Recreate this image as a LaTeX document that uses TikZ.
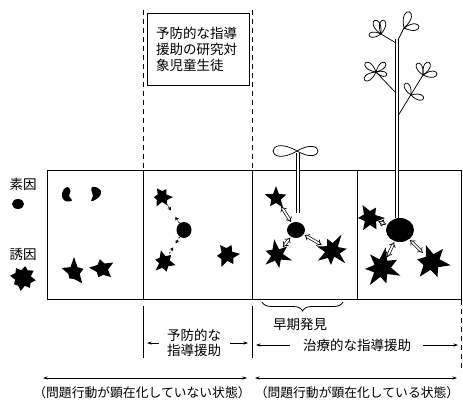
\documentclass[tikz,border=0pt]{standalone}
\usepackage{fontspec}
\setmainfont{Noto Sans CJK JP}
\usetikzlibrary{arrows.meta,shapes.geometric,decorations.pathreplacing}

% a leaf as a closed loop starting from its base point
\newcommand\leafat[3]{%
  \pgfmathsetmacro\leafdist{#3*1.54}%
  \draw[leafline] (#1) to[out={#2+30},in={#2-30},distance=\leafdist pt] (#1);}

% a jagged black factor: centre, rotation, number of corners, first radius, other radii
\newcommand\blot[5]{%
  \pgfmathsetmacro\blotstep{360/#3}%
  \fill[shift={(#1)},rotate=#2] (0:#4) \foreach \r [count=\i] in {#5} {-- ({\i*\blotstep}:\r)} -- cycle;}

\begin{document}
\begin{tikzpicture}[x=1pt,y=1pt,yscale=-1,
  font=\fontsize{13.5}{16}\selectfont,
  frame/.style={line width=0.9pt},
  guide/.style={line width=0.7pt,dash pattern=on 5pt off 4pt},
  rule/.style={line width=0.7pt},
  ball/.style={ellipse,fill=black,draw=none,inner sep=0pt},
  push/.style={line width=0.7pt,dash pattern=on 2pt off 1.5pt,-{Stealth[length=3.5pt,width=4pt]}},
  mutual/.style={line width=0.7pt,double,double distance=1.7pt,{Implies}-{Implies}},
  stemline/.style={line width=0.65pt,double,double distance=2.4pt},
  leafline/.style={line width=0.75pt},
  span/.style={line width=0.6pt,-{Stealth[length=4.5pt,width=3pt]}},
  bothspan/.style={line width=0.6pt,{Stealth[length=4.5pt,width=3pt]}-{Stealth[length=4.5pt,width=3pt]}},
  label/.style={inner sep=0pt}]
\useasboundingbox (0,0) rectangle (463,401);

% ---- dashed guides above the stage box
\draw[guide] (143.5,10) -- (143.5,170);
\draw[guide] (252.5,10) -- (252.5,170);

% ---- research target box
\node[draw,frame,fill=white,minimum width=102pt,minimum height=72pt,text width=84pt,align=left,
      font=\fontsize{13.5}{16}\selectfont] (target) at (198,49)
  {予防的な指導\\援助の研究対\\象児童生徒};

% ---- stage box with four panels
\draw[frame] (47,170) rectangle (461,299);
\draw[frame] (143.5,170) -- (143.5,299);
\draw[frame] (252.5,170) -- (252.5,299);
\draw[frame] (357,170) -- (357,299);

% ---- legend
\node[label] (lsoin) at (23,184) {素因};
\node[ball,minimum width=12pt,minimum height=10pt] (ldot) at (18,204) {};
\node[label] (lyuin) at (23,254) {誘因};
\coordinate (lstar) at (23,278);
\blot{lstar}{10}{16}{13}{9,12,8,13,9,11,8,13,9,12,8,12,9,13,8,13}

% ---- panel 1: separate factors
\fill plot[smooth cycle] coordinates {(68,187) (64,189) (62,194) (63,199) (67,201.5) (72,200.5) (69,196) (70.5,191)};
\fill plot[smooth cycle] coordinates {(92,187) (97,187.5) (101,191) (100,196) (95,200) (91,201) (93,196) (91.5,191)};
\coordinate (p1a) at (74,272);
\coordinate (p1b) at (102,269);
\blot{p1a}{-90}{10}{15}{6,10,6,14,7,8,6,13,6,15}
\blot{p1b}{-30}{10}{13}{6,12,6,9,6,13,6,10,6,13}

% ---- panel 2: factors beginning to meet
\coordinate (p2a) at (162,197);
\coordinate (p2b) at (164,262);
\coordinate (p2c) at (227,255);
\blot{p2a}{0}{12}{11}{6,9,5,11,6,8,5,10,6,9,5,11}
\blot{p2b}{15}{12}{12}{6,10,6,12,5,9,6,12,6,10,6,12}
\blot{p2c}{-5}{12}{13}{7,11,6,13,7,10,6,12,7,11,6,13}
\node[ball,minimum width=15pt,minimum height=16pt] (p2o) at (184,230) {};
\draw[push,shorten <=8pt,shorten >=15.5pt] (p2a) -- (p2o);
\draw[push,shorten >=24pt] (p2o) -- (p2a);
\draw[push,shorten <=10pt,shorten >=12.5pt] (p2b) -- (p2o);
\draw[push,shorten >=22pt] (p2o) -- (p2b);

% ---- panel 3: seedling, early stage
\draw[stemline] (298,153) -- (298,213);
\coordinate (sprout) at (297,151);
\leafat{sprout}{180}{24}
\leafat{sprout}{0}{21}
\coordinate (p3a) at (276,198);
\coordinate (p3b) at (277,255);
\coordinate (p3c) at (332,251);
\blot{p3a}{-90}{10}{12}{5,11,5,12,5,10,5,12,5,12}
\blot{p3b}{20}{12}{16}{6,13,6,15,6,12,7,16,6,13,6,16}
\blot{p3c}{-60}{14}{19}{7,15,8,18,6,14,8,17,7,16,7,13,8,19}
\node[ball,minimum width=18pt,minimum height=16pt] (p3o) at (296,230) {};
\draw[mutual,shorten <=10pt,shorten >=1pt] (p3a) -- (p3o);
\draw[mutual,shorten <=10pt,shorten >=1pt] (p3b) -- (p3o);
\draw[mutual,shorten <=1pt,shorten >=12pt] (p3o) -- (p3c);

% ---- panel 4: grown plant
\draw[stemline] (397,39) -- (397,218);
\coordinate (tl) at (381,34);
\coordinate (tr) at (404,28);
\coordinate (ml) at (376,72);
\coordinate (mr) at (423,75);
\coordinate (mm) at (411,95);
\draw[leafline] (396,43) -- (tl);
\draw[leafline] (398,40) -- (tr);
\draw[leafline] (396,93) -- (ml);
\draw[leafline] (398.5,115) -- (mr);
\leafat{tl}{-115}{15}
\leafat{tl}{-80}{14}
\leafat{tl}{175}{12}
\leafat{tr}{-72}{17}
\leafat{tr}{-5}{15}
\leafat{ml}{-140}{14}
\leafat{ml}{-45}{13}
\leafat{ml}{145}{14}
\leafat{ml}{15}{11}
\leafat{mr}{-115}{13}
\leafat{mr}{-65}{14}
\leafat{mr}{-5}{14}
\leafat{mm}{-115}{13}
\leafat{mm}{15}{13}
\coordinate (p4a) at (370,218);
\coordinate (p4b) at (382,268);
\coordinate (p4c) at (432,262);
\blot{p4a}{0}{12}{15}{7,13,7,14,6,12,7,15,7,12,6,15}
\blot{p4b}{-80}{14}{21}{9,17,9,20,8,16,9,21,9,17,8,18,9,21}
\blot{p4c}{10}{12}{19}{8,16,8,19,9,15,8,18,8,17,8,19}
\node[ball,minimum width=28pt,minimum height=24pt] (p4o) at (400,230) {};
\draw[mutual,shorten <=9pt,shorten >=1pt] (p4a) -- (p4o);
\draw[mutual,shorten <=12pt,shorten >=1pt] (p4b) -- (p4o);
\draw[mutual,shorten <=1pt,shorten >=13pt] (p4o) -- (p4c);

% ---- markers below the box
\draw[rule] (143.5,306) -- (143.5,358);
\draw[rule] (252.5,306) -- (252.5,358);
\draw[guide] (461,300) -- (461,372);
\draw[line width=0.8pt,decorate,decoration={brace,amplitude=9pt,mirror}] (262,302) -- (343,302);
\node[label] (early) at (300,324) {早期発見};

\node[label,align=center,font=\fontsize{13.5}{15}\selectfont] (prev) at (194,343) {予防的な\\指導援助};
\coordinate (prevL) at (147,343);
\coordinate (prevLt) at (159,343);
\coordinate (prevR) at (248,343);
\coordinate (prevRt) at (230,343);
\draw[span] (prevLt) -- (prevL);
\draw[span] (prevRt) -- (prevR);

\node[label] (cure) at (357,345) {治療的な指導援助};
\coordinate (cureL) at (256,345);
\coordinate (cureLt) at (290,345);
\coordinate (cureR) at (458,345);
\coordinate (cureRt) at (423,345);
\draw[span] (cureLt) -- (cureL);
\draw[span] (cureRt) -- (cureR);

% ---- state spans
\coordinate (s1a) at (43,378);
\coordinate (s1b) at (247,378);
\coordinate (s2a) at (255,378);
\coordinate (s2b) at (457,378);
\draw[bothspan] (s1a) -- (s1b);
\draw[bothspan] (s2a) -- (s2b);
\node[label,font=\fontsize{12.8}{14}\selectfont] (latent) at (142,393) {（問題行動が顕在化していない状態）};
\node[label,font=\fontsize{12.8}{14}\selectfont] (overt) at (357,393) {（問題行動が顕在化している状態）};
\end{tikzpicture}
\end{document}
